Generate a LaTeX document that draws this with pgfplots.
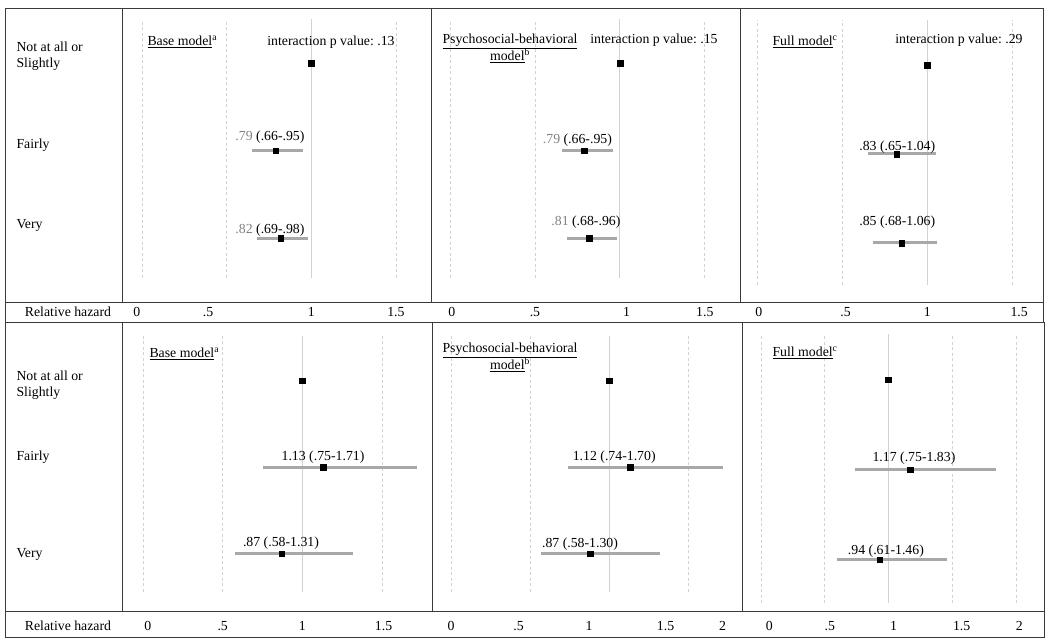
\documentclass[border=0pt]{standalone}
\usepackage{fontspec}
\setmainfont{Liberation Serif}
\usepackage{pgfplots}
\pgfplotsset{compat=1.18}
\frenchspacing
\definecolor{framec}{HTML}{3A3A3A}
\definecolor{gridc}{HTML}{D2D2D2}
\definecolor{cic}{HTML}{A8A8A8}
\definecolor{txtg}{HTML}{808080}
\newcommand\f{\fontsize{13.8}{16}\selectfont}
\pgfplotsset{
  panel/.style={
    scale only axis, anchor=north west,
    axis line style={draw=framec, line width=1pt},
    ytick=\empty, major tick length=0pt,
    xticklabel style={font=\f, anchor=center},
    clip=false,
  },
  gl/.style={gridc, line width=0.8pt, dash pattern=on 3pt off 2.5pt, forget plot},
  one/.style={gridc, line width=1pt, forget plot},
  ci/.style={cic, line width=3pt, forget plot},
  est/.style={only marks, mark=square*, mark size=2.8pt, black, forget plot},
}
\begin{document}
\begin{tikzpicture}[font=\f]
\useasboundingbox (0pt,0pt) rectangle (1050pt,-643pt);
% frames of label column and tick strips
\draw[framec, line width=1pt] (5pt,-8pt) rectangle (122pt,-302pt);
\draw[framec, line width=1pt] (5pt,-302pt) rectangle (1043pt,-322.5pt);
\draw[framec, line width=1pt] (5pt,-322.5pt) rectangle (122pt,-611pt);
\draw[framec, line width=1pt] (5pt,-611pt) rectangle (1044pt,-637pt);

% ---------------- TOP ROW ----------------
\begin{axis}[panel, at={(122pt,-8pt)}, width=309pt, height=294pt,
  xmin=-0.118, xmax=1.707, ymin=0.27, ymax=3.63,
  xtick={-0.03,0.39,1,1.5}, xticklabels={0,.5,1,1.5},
  xticklabel style={yshift=-10pt}]
\addplot[gl] coordinates {(0,0.55) (0,3.5)};
\addplot[gl] coordinates {(0.5,0.55) (0.5,3.5)};
\addplot[gl] coordinates {(1.5,0.55) (1.5,3.5)};
\addplot[one] coordinates {(1,0.55) (1,3.5)};
\addplot[ci] coordinates {(0.65,2) (0.95,2)};
\addplot[ci] coordinates {(0.68,1) (0.98,1)};
\addplot[est] coordinates {(1,3) (0.79,2) (0.82,1)};
\node[yshift=13pt] at (axis cs:0.756,2) {\textcolor{txtg}{.79} (.66-.95)};
\node[yshift=8pt] at (axis cs:0.756,1) {\textcolor{txtg}{.82} (.69-.98)};
\end{axis}

\begin{axis}[panel, at={(431pt,-8pt)}, width=309pt, height=294pt,
  xmin=-0.112, xmax=1.707, ymin=0.27, ymax=3.63,
  xtick={0.01,0.5,1.04,1.5}, xticklabels={0,.5,1,1.5},
  xticklabel style={yshift=-10pt}]
\addplot[gl] coordinates {(0,0.55) (0,3.5)};
\addplot[gl] coordinates {(0.5,0.55) (0.5,3.5)};
\addplot[gl] coordinates {(1.5,0.55) (1.5,3.5)};
\addplot[one] coordinates {(1,0.55) (1,3.5)};
\addplot[ci] coordinates {(0.66,2) (0.96,2)};
\addplot[ci] coordinates {(0.69,1) (0.98,1)};
\addplot[est] coordinates {(1,3) (0.79,2) (0.82,1)};
\node[yshift=10pt] at (axis cs:0.75,2) {\textcolor{txtg}{.79} (.66-.95)};
\node[yshift=16pt] at (axis cs:0.80,1) {\textcolor{txtg}{.81} (.68-.96)};
\end{axis}

\begin{axis}[panel, at={(740pt,-8pt)}, width=303pt, height=294pt,
  xmin=-0.1, xmax=1.68, ymin=0.337, ymax=3.64,
  xtick={0.01,0.52,1,1.54}, xticklabels={0,.5,1,1.5},
  xticklabel style={yshift=-10pt}]
\addplot[gl] coordinates {(0,0.53) (0,3.5)};
\addplot[gl] coordinates {(0.5,0.53) (0.5,3.5)};
\addplot[gl] coordinates {(1.5,0.53) (1.5,3.5)};
\addplot[one] coordinates {(1,0.53) (1,3.5)};
\addplot[ci] coordinates {(0.65,2) (1.05,2)};
\addplot[ci] coordinates {(0.68,1) (1.06,1)};
\addplot[est] coordinates {(1,3) (0.82,2) (0.85,1)};
\node[yshift=7pt] at (axis cs:0.824,2) {.83 (.65-1.04)};
\node[yshift=21pt] at (axis cs:0.824,1) {.85 (.68-1.06)};
\end{axis}

% ---------------- BOTTOM ROW ----------------
\begin{axis}[panel, at={(122pt,-322.5pt)}, width=310pt, height=288.5pt,
  xmin=-0.132, xmax=1.814, ymin=0.34, ymax=3.67,
  xtick={0.03,0.5,1,1.51}, xticklabels={0,.5,1,1.5},
  xticklabel style={yshift=-15pt}]
\addplot[gl] coordinates {(0,0.56) (0,3.51)};
\addplot[gl] coordinates {(0.5,0.56) (0.5,3.51)};
\addplot[gl] coordinates {(1.5,0.56) (1.5,3.51)};
\addplot[one] coordinates {(1,0.56) (1,3.51)};
\addplot[ci] coordinates {(0.75,2) (1.72,2)};
\addplot[ci] coordinates {(0.58,1) (1.32,1)};
\addplot[est] coordinates {(1,3) (1.13,2) (0.87,1)};
\node[yshift=10pt] at (axis cs:1.13,2) {1.13 (.75-1.71)};
\node[yshift=11pt] at (axis cs:0.866,1) {.87 (.58-1.31)};
\end{axis}

\begin{axis}[panel, at={(432pt,-322.5pt)}, width=310pt, height=288.5pt,
  xmin=-0.121, xmax=1.837, ymin=0.34, ymax=3.67,
  xtick={0,0.426,0.871,1.354,1.715}, xticklabels={0,.5,1,1.5,2},
  xticklabel style={yshift=-15pt}]
\addplot[gl] coordinates {(0,0.56) (0,3.51)};
\addplot[gl] coordinates {(0.5,0.56) (0.5,3.51)};
\addplot[gl] coordinates {(1.5,0.56) (1.5,3.51)};
\addplot[one] coordinates {(1,0.56) (1,3.51)};
\addplot[ci] coordinates {(0.74,2) (1.72,2)};
\addplot[ci] coordinates {(0.57,1) (1.32,1)};
\addplot[est] coordinates {(1,3) (1.13,2) (0.88,1)};
\node[yshift=10pt] at (axis cs:1.03,2) {1.12 (.74-1.70)};
\node[yshift=10pt] at (axis cs:0.814,1) {.87 (.58-1.30)};
\end{axis}

\begin{axis}[panel, at={(742pt,-322.5pt)}, width=302pt, height=288.5pt,
  xmin=-0.149, xmax=2.22, ymin=0.433, ymax=3.633,
  xtick={0.065,0.54,1.04,1.574,2.026}, xticklabels={0,.5,1,1.5,2},
  xticklabel style={yshift=-15pt}]
\addplot[gl] coordinates {(0,0.52) (0,3.5)};
\addplot[gl] coordinates {(0.5,0.52) (0.5,3.5)};
\addplot[gl] coordinates {(1.5,0.52) (1.5,3.5)};
\addplot[gl] coordinates {(2,0.52) (2,3.5)};
\addplot[one] coordinates {(1,0.52) (1,3.5)};
\addplot[ci] coordinates {(0.74,2) (1.84,2)};
\addplot[ci] coordinates {(0.60,1) (1.46,1)};
\addplot[est] coordinates {(1,3) (1.17,2) (0.93,1)};
\node[yshift=12pt] at (axis cs:1.2,2) {1.17 (.75-1.83)};
\node[yshift=9pt] at (axis cs:0.98,1) {.94 (.61-1.46)};
\end{axis}

% ---------------- headers and row labels ----------------
\node[anchor=west] at (144pt,-42pt) {\underline{Base model}\textsuperscript{a}};
\node at (331pt,-42pt) {interaction p value: .13};
\node[align=center, font=\fontsize{13.8}{17}\selectfont] at (510pt,-48.5pt) {\underline{Psychosocial-behavioral}\\\underline{model}\textsuperscript{b}};
\node at (654pt,-40pt) {interaction p value: .15};
\node[anchor=west] at (769pt,-42pt) {\underline{Full model}\textsuperscript{c}};
\node at (959pt,-40pt) {interaction p value: .29};

\node[anchor=west] at (146pt,-354pt) {\underline{Base model}\textsuperscript{a}};
\node[align=center, font=\fontsize{13.8}{17}\selectfont] at (510pt,-357.5pt) {\underline{Psychosocial-behavioral}\\\underline{model}\textsuperscript{b}};
\node[anchor=west] at (769pt,-353pt) {\underline{Full model}\textsuperscript{c}};

\node[anchor=west, align=left] at (13pt,-56pt) {Not at all or\\Slightly};
\node[anchor=west] at (13pt,-145pt) {Fairly};
\node[anchor=west] at (13pt,-225pt) {Very};
\node[anchor=west, align=left] at (13pt,-385.5pt) {Not at all or\\Slightly};
\node[anchor=west] at (13pt,-457pt) {Fairly};
\node[anchor=west] at (13pt,-554pt) {Very};

\node at (68pt,-312pt) {Relative hazard};
\node at (68pt,-626pt) {Relative hazard};
\end{tikzpicture}
\end{document}
